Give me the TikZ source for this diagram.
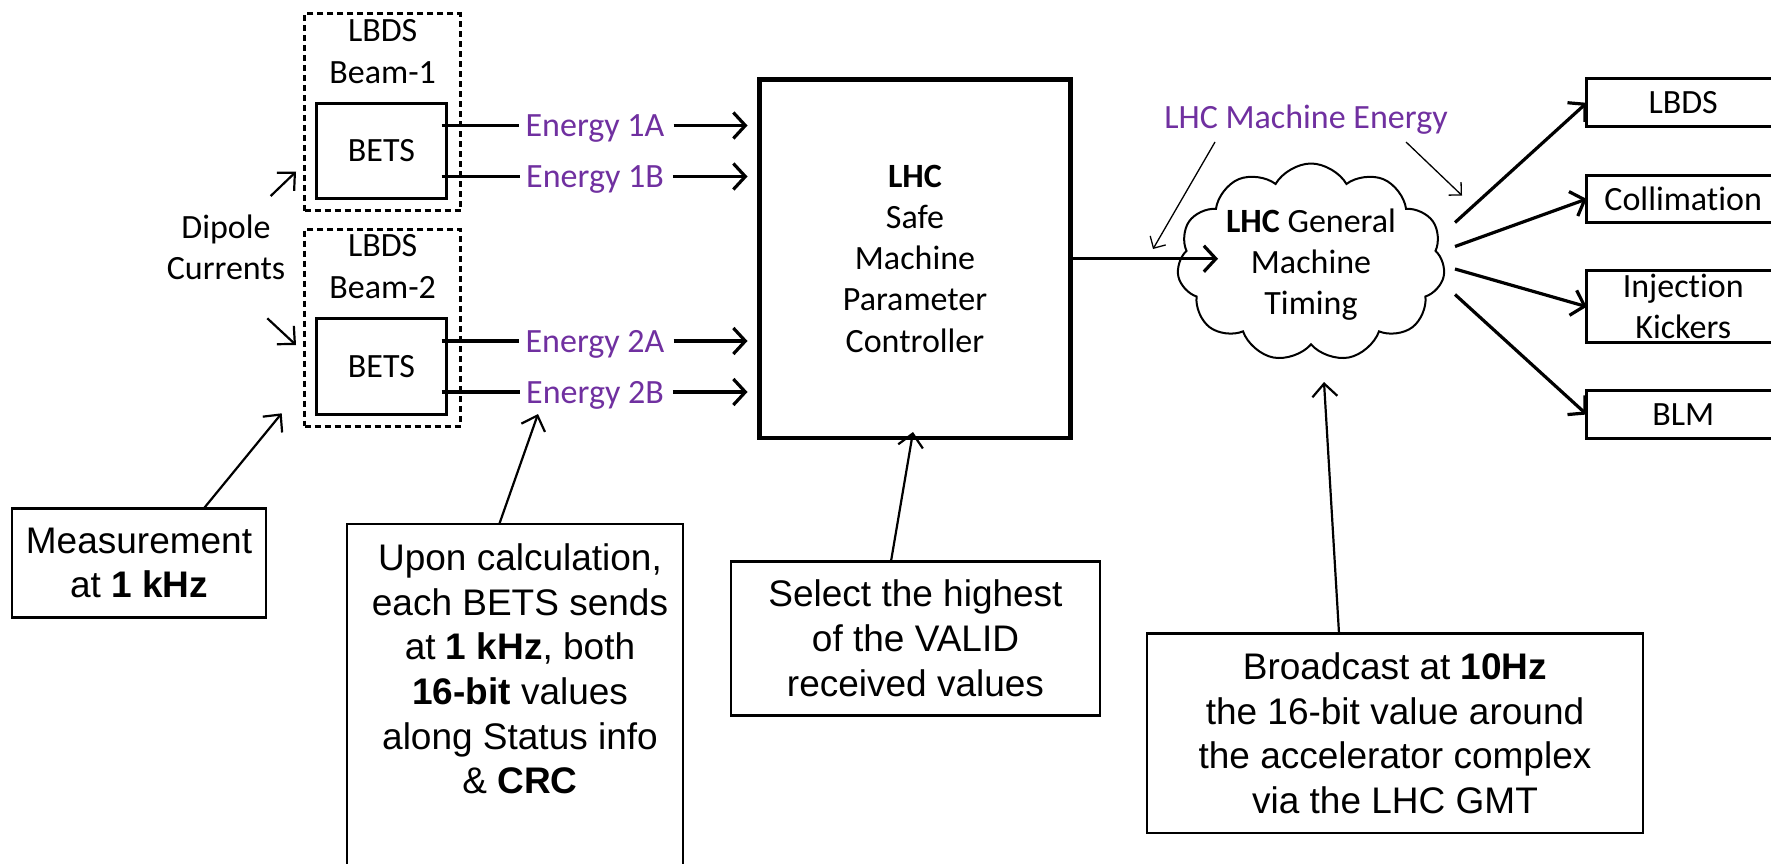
\documentclass[tikz,border=0pt]{standalone}
\usepackage{fontspec}
\newfontfamily\calfont[Ligatures=NoCommon]{Carlito}
\newfontfamily\arifont{Liberation Sans}
\usetikzlibrary{arrows.meta,calc,shapes.symbols}
\definecolor{enpurple}{HTML}{7030A0}
\tikzset{
  cal/.style={font={\calfont\fontsize{34}{41.2}\selectfont}},
  ari/.style={font={\arifont\fontsize{37}{44.7}\selectfont}},
  betsbox/.style={draw, line width=3pt, outer sep=0pt, inner sep=0pt, cal,
    minimum width=130.4pt, minimum height=95.4pt},
  dashbox/.style={draw, line width=3pt, dash pattern=on 6pt off 4pt, outer sep=0pt, inner sep=0pt,
    minimum width=156pt, minimum height=196.7pt},
  mainbox/.style={draw, line width=4.5pt, outer sep=0pt, inner sep=0pt, cal, align=center},
  rbox/.style={draw, line width=3pt, outer sep=0pt, inner sep=0pt, cal, align=center,
    minimum width=193pt, anchor=west},
  notebox/.style={draw, line width=2.6pt, outer sep=0pt, inner sep=0pt, ari, align=center},
  entext/.style={cal, text=enpurple, text height=22pt, text depth=0pt, inner xsep=6pt, inner ysep=0pt},
  plaintext/.style={cal, align=center, inner sep=0pt},
  connline/.style={line width=3.2pt},
  thickarr/.style={line width=3.2pt, -{Straight Barb[length=12pt,width=26pt]}},
  thinarr/.style={line width=2.2pt, -{Straight Barb[length=13pt,width=25pt]}},
  hairarr/.style={line width=1.3pt, -{Straight Barb[length=9pt,width=18pt]}},
  gmtcloud/.style={cloud, draw, line width=2pt, cloud puffs=11, cloud puff arc=120,
    aspect=1.5, cloud ignores aspect, minimum width=268pt, minimum height=198pt, inner sep=0pt, outer sep=0pt}
}
\begin{document}
\begin{tikzpicture}[x=1pt,y=-1pt]
\useasboundingbox (0,0) rectangle (1771,864);
\clip (0,0) rectangle (1771,864);
\fill[white] (0,0) rectangle (1771,864);

% LBDS dashed boxes and BETS
\node[dashbox] (lb1) at (382.7,112.35) {};
\node[dashbox] (lb2) at (382.7,327.65) {};
\node[plaintext] (lb1t) at (382.7,51.5) {LBDS\\Beam-1};
\node[plaintext] (lb2t) at (382.7,266.5) {LBDS\\Beam-2};
\node[betsbox] (bets1) at (381.5,151) {BETS};
\node[betsbox] (bets2) at (381.5,366.35) {BETS};

% Dipole currents
\node[plaintext] (dip) at (226,247.5) {Dipole\\Currents};
\coordinate (d1s) at (270.7,196);
\coordinate (d1e) at (296,171.7);
\coordinate (d2s) at (267.3,318.3);
\coordinate (d2e) at (296,345);
\draw[thinarr] (d1s) -- (d1e);
\draw[thinarr] (d2s) -- (d2e);

% Main controller
\node[mainbox, minimum width=311pt, minimum height=358.5pt] (main) at (915,258.75)
  {\textbf{LHC}\\Safe\\Machine\\Parameter\\Controller};

% Energy labels
\node[entext] (e1a) at (595,125.5) {Energy 1A};
\node[entext] (e1b) at (595,176.5) {Energy 1B};
\node[entext] (e2a) at (595,341) {Energy 2A};
\node[entext] (e2b) at (595,392) {Energy 2B};
\draw[connline] ($(bets1.east)+(-5,-25.5)$) -- (e1a.west);
\draw[connline] ($(bets1.east)+(-5,25.5)$) -- (e1b.west);
\draw[connline] ($(bets2.east)+(-5,-25.35)$) -- (e2a.west);
\draw[connline] ($(bets2.east)+(-5,25.65)$) -- (e2b.west);
\draw[thickarr] ([xshift=3pt]e1a.east) -- ($(main.west |- e1a.east)+(-12,0)$);
\draw[thickarr] ([xshift=3pt]e1b.east) -- ($(main.west |- e1b.east)+(-12,0)$);
\draw[thickarr] ([xshift=3pt]e2a.east) -- ($(main.west |- e2a.east)+(-12,0)$);
\draw[thickarr] ([xshift=3pt]e2b.east) -- ($(main.west |- e2b.east)+(-12,0)$);

% General machine timing cloud
\node[gmtcloud, label={[plaintext, yshift=-2pt]center:{\textbf{LHC} General\\Machine\\Timing}}] (gmt) at (1311,262.5) {};
\coordinate (cin) at (1218,258.75);
\draw[thickarr] (main.east) -- (cin);

% LHC Machine Energy label
\node[entext] (lme) at (1306,117.5) {LHC Machine Energy};
\coordinate (h1s) at (1215,142);
\coordinate (h1e) at (1153,249);
\coordinate (h2s) at (1406,142);
\coordinate (h2e) at (1462,195.5);
\draw[hairarr] (h1s) -- (h1e);
\draw[hairarr] (h2s) -- (h2e);

% Right boxes
\node[rbox, minimum height=47.7pt] (rb1) at (1586.7,102.8) {LBDS};
\node[rbox, minimum height=46.7pt] (rb2) at (1586.7,199) {Collimation};
\node[rbox, minimum height=71.7pt] (rb3) at (1586.7,306.7) {Injection\\Kickers};
\node[rbox, minimum height=47.4pt] (rb4) at (1586.7,414.5) {BLM};
\draw[thickarr] ($(gmt.center)+(144,-40)$) -- (rb1.west);
\draw[thickarr] ($(gmt.center)+(144,-16)$) -- (rb2.west);
\draw[thickarr] ($(gmt.center)+(144,6.5)$) -- (rb3.west);
\draw[thickarr] ($(gmt.center)+(144,32)$) -- (rb4.west);

% Bottom notes
\node[notebox, minimum width=254pt, minimum height=108.6pt] (meas) at (139,563)
  {Measurement\\at \textbf{1 kHz}};
\coordinate (measto) at (281.7,413.3);
\draw[thinarr] ([xshift=64.6pt]meas.north) -- (measto);

\node[notebox, anchor=north] (upon) at (515,524)
  {\parbox[c][400pt][t]{336pt}{\vspace*{19.5pt}\centering\leftskip=10pt plus 1fil
   Upon calculation,\\ each BETS sends\\ at \textbf{1 kHz}, both\\ \textbf{16-bit} values\\
   along Status info\\ \& \textbf{CRC}\par}};
\coordinate (uponto) at (538,414);
\draw[thinarr] ([xshift=-15.7pt]upon.north) -- (uponto);

\node[notebox, minimum width=369pt, minimum height=154pt] (sel) at (915.5,638.3)
  {Select the highest\\of the VALID\\received values};
\coordinate (selto) at (913,432);
\draw[thinarr] ([xshift=-24.5pt]sel.north) -- (selto);

\node[notebox, minimum width=496pt, minimum height=199.7pt] (bc) at (1395,733.2)
  {Broadcast at \textbf{10Hz}\\the 16-bit value around\\the accelerator complex\\via the LHC GMT};
\coordinate (bcto) at (1324,382);
\draw[thinarr] ([xshift=-56pt]bc.north) -- (bcto);
\end{tikzpicture}
\end{document}
